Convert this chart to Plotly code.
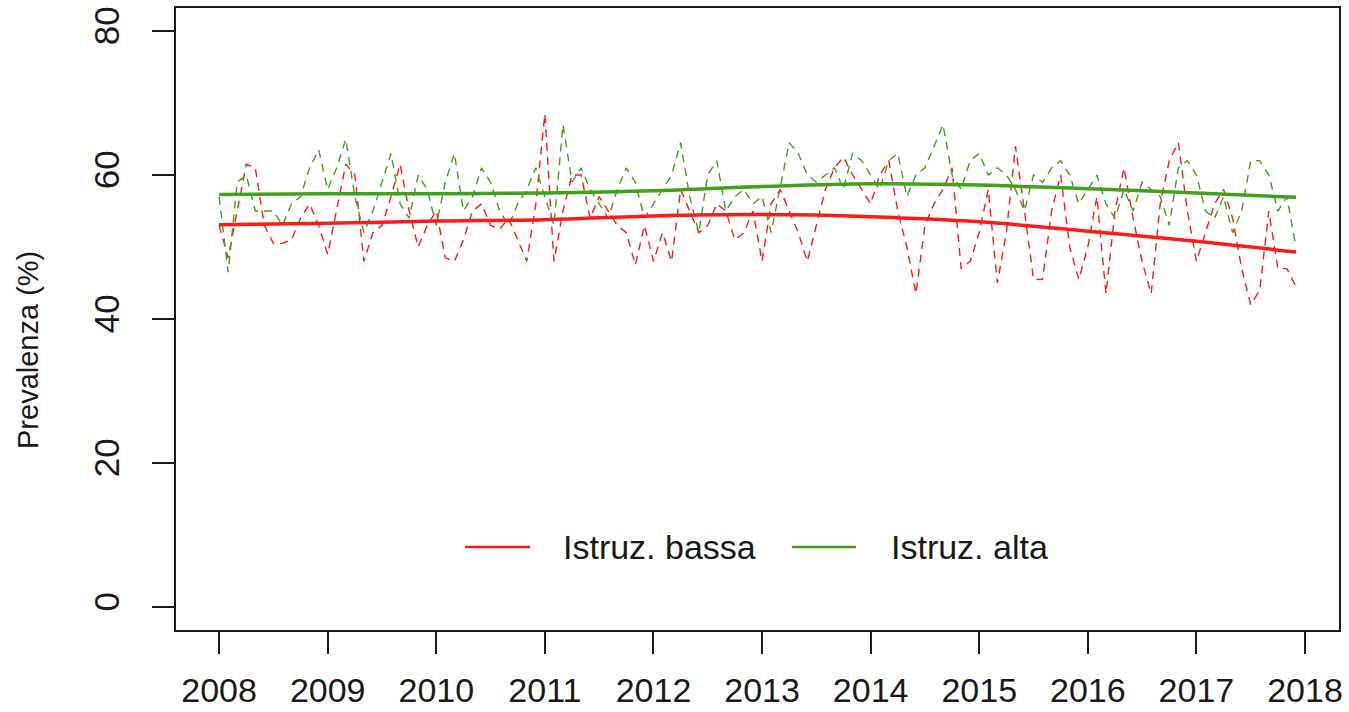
import plotly.graph_objects as go

# ---- data ----
start_year = 2008
low_edu = [
    53, 48.5, 55, 61.5, 61, 53, 50.5, 50.5, 51, 54, 56, 53,        # 2008
    49, 55, 61.5, 60, 48, 52, 53, 57, 61.5, 55, 50, 53,            # 2009
    55, 48.5, 48, 51, 55, 56, 53, 52.5, 54, 51, 48, 56,            # 2010
    68.5, 48, 55, 60, 60, 54, 57, 55, 53, 52, 47.5, 53,            # 2011
    48, 52, 48, 58, 55, 52, 53, 56, 55, 51, 52, 55,                # 2012
    48, 56, 58, 55, 52, 48, 53, 58, 61, 62.5, 60, 58,              # 2013
    56, 60, 62, 55, 50, 43.5, 53, 56, 58, 61, 47, 48,              # 2014
    52, 58, 45, 52, 64, 55, 45.5, 45.5, 55, 60, 50, 45.5,          # 2015
    50, 57, 43.5, 55, 61, 54, 48, 43.5, 56, 62, 64.5, 55,          # 2016
    48, 52, 56, 58, 54, 47, 42, 44, 55, 47, 47, 44.5,              # 2017
]
high_edu = [
    57, 46.5, 59, 60, 55, 55, 55, 53, 56, 57, 61, 63.5,            # 2008
    58, 61, 65, 57, 52, 55, 59, 63, 56, 54, 60, 58,                # 2009
    53, 59, 63, 55, 57, 61, 59, 55, 53, 56, 58, 61,                # 2010
    57, 53, 67, 59, 61, 58, 56, 54, 58, 61, 59, 54,                # 2011
    56, 58, 60, 64.5, 57, 52, 60, 62, 55, 57, 58, 56,              # 2012
    57, 52, 58, 64.5, 63, 60, 59, 60, 61, 58, 63, 62,              # 2013
    60, 58, 62, 63, 57, 60, 61, 64, 67, 60, 58, 62,                # 2014
    63, 60, 61, 60, 58, 55, 60, 59, 61, 62, 60, 56,                # 2015
    58, 60, 56, 54, 58, 55, 59, 58, 57, 53, 61, 62,                # 2016
    60, 55, 54, 57, 52, 55, 62, 62, 60, 55, 57, 50,                # 2017
]
trend_x = [2008, 2009, 2010, 2011, 2012, 2013, 2014, 2015, 2016, 2017, 2017.917]
trend_low = [53.1, 53.3, 53.6, 53.8, 54.3, 54.5, 54.2, 53.5, 52.2, 50.8, 49.3]
trend_high = [57.3, 57.4, 57.4, 57.5, 57.8, 58.4, 58.8, 58.6, 58.1, 57.5, 56.9]
year_ticks = [2008, 2009, 2010, 2011, 2012, 2013, 2014, 2015, 2016, 2017, 2018]
y_ticks = [0, 20, 40, 60, 80]
labels = ["Istruz. bassa", "Istruz. alta"]

months = [start_year + m / 12 for m in range(len(low_edu))]

RED = "#FF1A1A"
GREEN = "#44A01C"
INK = "#1a1a1a"
FONT = "Liberation Sans, Arial, sans-serif"

fig = go.Figure()
fig.add_trace(go.Scatter(x=months, y=low_edu, mode="lines",
                         line=dict(color=RED, width=1.4, dash="8px,6px"),
                         showlegend=False, hoverinfo="skip"))
fig.add_trace(go.Scatter(x=months, y=high_edu, mode="lines",
                         line=dict(color=GREEN, width=1.4, dash="8px,6px"),
                         showlegend=False, hoverinfo="skip"))
fig.add_trace(go.Scatter(x=trend_x, y=trend_low, mode="lines", name=labels[0],
                         line=dict(color=RED, width=3.5, shape="spline"),
                         showlegend=False))
fig.add_trace(go.Scatter(x=trend_x, y=trend_high, mode="lines", name=labels[1],
                         line=dict(color=GREEN, width=3.5, shape="spline"),
                         showlegend=False))

W, H = 1349, 712
box_left, box_right, box_top, box_bottom = 176, 1339, 8, 630
L = box_left
R = W - box_right
T = box_top
B = H - box_bottom
pw = box_right - box_left
ph = box_bottom - box_top

def px_x(x):
    return (x - box_left) / pw

def px_y(y):
    return (box_bottom - y) / ph

# manual legend (no box), like R's legend(bty="n", horiz=TRUE)
leg_y = px_y(547)
shapes = [
    dict(type="line", xref="paper", yref="paper", x0=px_x(465), x1=px_x(530),
         y0=leg_y, y1=leg_y, line=dict(color=RED, width=2.5)),
    dict(type="line", xref="paper", yref="paper", x0=px_x(792), x1=px_x(856),
         y0=leg_y, y1=leg_y, line=dict(color=GREEN, width=2.5)),
]
annotations = [
    dict(text=labels[0], xref="paper", yref="paper", x=px_x(561), y=leg_y,
         xanchor="left", yanchor="middle", showarrow=False,
         font=dict(family=FONT, size=34, color=INK)),
    dict(text=labels[1], xref="paper", yref="paper", x=px_x(889), y=leg_y,
         xanchor="left", yanchor="middle", showarrow=False,
         font=dict(family=FONT, size=34, color=INK)),
    dict(text="Prevalenza (%)", xref="paper", yref="paper", x=px_x(28), y=px_y(350),
         xanchor="center", yanchor="middle", textangle=-90, showarrow=False,
         font=dict(family=FONT, size=29, color=INK)),
]

fig.update_layout(
    width=W, height=H,
    margin=dict(l=L, r=R, t=T, b=B, autoexpand=False),
    plot_bgcolor="white", paper_bgcolor="white",
    font=dict(family=FONT, color=INK),
    shapes=shapes, annotations=annotations,
    showlegend=False,
)
fig.update_xaxes(range=[2007.603, 2018.313], tickvals=year_ticks,
                 ticktext=[str(y) for y in year_ticks],
                 ticks="outside", ticklen=22, tickwidth=2, tickcolor=INK,
                 showline=True, mirror=True, linewidth=2, linecolor=INK,
                 showgrid=False, zeroline=False, automargin=False,
                 ticklabeloverflow="allow",
                 tickfont=dict(family=FONT, size=34, color=INK),
                 ticklabelstandoff=7)
fig.update_yaxes(range=[-3.2, 83.2], tickvals=y_ticks,
                 ticks="outside", ticklen=22, tickwidth=2, tickcolor=INK,
                 showline=True, mirror=True, linewidth=2, linecolor=INK,
                 showgrid=False, zeroline=False, tickangle=-90, automargin=False,
                 ticklabeloverflow="allow",
                 tickfont=dict(family=FONT, size=35, color=INK),
                 ticklabelstandoff=19)

fig.write_html("out.html",
               config={"displayModeBar": False},
               post_script="document.body.style.margin='0';"
                           "document.body.style.overflow='hidden';")
